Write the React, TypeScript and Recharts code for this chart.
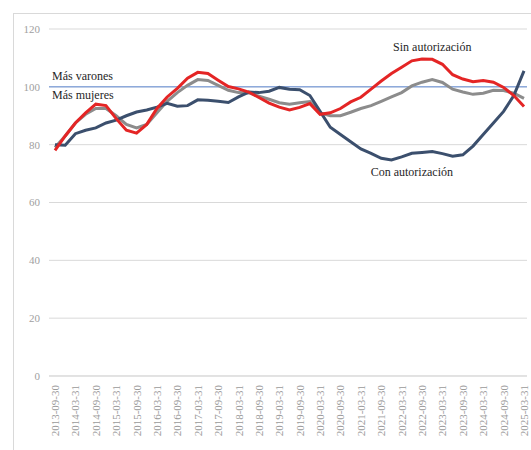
import { LineChart, Line, XAxis, YAxis, CartesianGrid, ReferenceLine, ReferenceDot, Label } from 'recharts'

const dates = [
  '2013-09-30', '2013-12-31', '2014-03-31', '2014-06-30', '2014-09-30', '2014-12-31',
  '2015-03-31', '2015-06-30', '2015-09-30', '2015-12-31', '2016-03-31', '2016-06-30',
  '2016-09-30', '2016-12-31', '2017-03-31', '2017-06-30', '2017-09-30', '2017-12-31',
  '2018-03-31', '2018-06-30', '2018-09-30', '2018-12-31', '2019-03-31', '2019-06-30',
  '2019-09-30', '2019-12-31', '2020-03-31', '2020-06-30', '2020-09-30', '2020-12-31',
  '2021-03-31', '2021-06-30', '2021-09-30', '2021-12-31', '2022-03-31', '2022-06-30',
  '2022-09-30', '2022-12-31', '2023-03-31', '2023-06-30', '2023-09-30', '2023-12-31',
  '2024-03-31', '2024-06-30', '2024-09-30', '2024-12-31', '2025-03-31',
]

// sin autorización (red)
const sinAut = [
  78, 83, 87.5, 91, 94, 93.5, 89, 85, 84, 87, 92.5, 96.5, 99.5, 103, 105, 104.6,
  102.3, 100.1, 99.3, 98.2, 96.3, 94.4, 93, 92, 92.9, 94.2, 90.5, 91, 92.5, 94.8,
  96.4, 99.2, 102, 104.6, 106.8, 109, 109.6, 109.5, 107.8, 104.2, 102.7, 101.8,
  102.2, 101.6, 99.8, 97, 93.2,
]

// total (gray)
const total = [
  79, 83, 87.5, 90.5, 92.5, 92.5, 90, 87, 85.8, 87, 91, 95, 98, 100.5, 102.5, 102.2,
  100.5, 98.8, 98, 97.9, 96.8, 95.7, 94.5, 94, 94.5, 94.9, 91, 90, 90, 91.2,
  92.5, 93.5, 95, 96.5, 98, 100.3, 101.6, 102.5, 101.5, 99.2, 98.2, 97.4,
  97.8, 98.8, 98.7, 97.8, 96,
]

// con autorización (dark blue)
const conAut = [
  80, 79.8, 83.8, 85, 85.8, 87.5, 88.5, 90, 91.3, 92, 93, 94.3, 93.3, 93.5, 95.5, 95.4,
  95, 94.6, 96.5, 98.2, 98, 98.5, 99.8, 99.2, 99, 97, 91.5, 86, 83.5, 81,
  78.5, 77, 75.3, 74.7, 75.8, 77, 77.3, 77.6, 76.9, 76, 76.5, 79.5,
  83.5, 87.5, 91.5, 97, 105.5,
]

const yTicks = [0, 20, 40, 60, 80, 100, 120]

const data = dates.map((d, i) => ({
  date: d,
  sin: sinAut[i],
  total: total[i],
  con: conAut[i],
}))

const serif = '"Liberation Serif", "Times New Roman", serif'

const XTick = ({ x, y, payload }: any) => {
  const tx = x + 4
  const ty = y + 9
  return (
    <text
      x={tx}
      y={ty}
      transform={`rotate(-90 ${tx} ${ty})`}
      textAnchor="end"
      fontFamily={serif}
      fontSize={11}
      fill="#9a9a9a"
    >
      {payload.value}
    </text>
  )
}

export default function App() {
  return (
    <div style={{ position: 'absolute', left: 0, top: 0, width: 531, height: 450, overflow: 'hidden', background: '#fff' }}>
      <div style={{ position: 'absolute', left: 13, top: 13, width: 700, height: 700, border: '1px solid #d9d9d9' }} />
      <div style={{ position: 'absolute', left: 0, top: 0 }}>
        <LineChart width={531} height={450} data={data} margin={{ top: 29, right: 4, bottom: 0, left: 0 }}>
          <CartesianGrid vertical={false} stroke="#d9d9d9" />
          <XAxis
            dataKey="date"
            interval={1}
            tick={<XTick />}
            tickLine={false}
            tickSize={0}
            tickMargin={0}
            axisLine={{ stroke: '#d9d9d9' }}
            height={74}
            padding={{ left: 6, right: 3 }}
          />
          <YAxis
            domain={[0, 120]}
            ticks={yTicks}
            width={49}
            axisLine={false}
            tickLine={false}
            tickSize={0}
            tickMargin={9}
            tick={{ fontSize: 11, fill: '#a0a0a0', fontFamily: serif }}
          />
          <ReferenceLine y={100} stroke="#8eaadb" strokeWidth={1.5}>
            <Label
              content={({ viewBox }: any) => (
                <text x={viewBox.x + 3} y={viewBox.y - 7} fontFamily={serif} fontSize={12} fill="#262626">
                  Más varones
                </text>
              )}
            />
            <Label
              content={({ viewBox }: any) => (
                <text x={viewBox.x + 3} y={viewBox.y + 12} fontFamily={serif} fontSize={12} fill="#262626">
                  Más mujeres
                </text>
              )}
            />
          </ReferenceLine>
          <Line type="linear" dataKey="total" stroke="#8c8c8c" strokeWidth={3} dot={false} isAnimationActive={false} />
          <Line type="linear" dataKey="con" stroke="#3b4f6d" strokeWidth={3} dot={false} isAnimationActive={false} />
          <Line type="linear" dataKey="sin" stroke="#e42525" strokeWidth={3} dot={false} isAnimationActive={false} />
          <ReferenceDot x="2022-12-31" y={113.8} r={0} fill="none" stroke="none">
            <Label value="Sin autorización" position="center" fontFamily={serif} fontSize={12} fill="#262626" />
          </ReferenceDot>
          <ReferenceDot x="2022-06-30" y={70.6} r={0} fill="none" stroke="none">
            <Label value="Con autorización" position="center" fontFamily={serif} fontSize={12} fill="#262626" />
          </ReferenceDot>
        </LineChart>
      </div>
    </div>
  )
}
